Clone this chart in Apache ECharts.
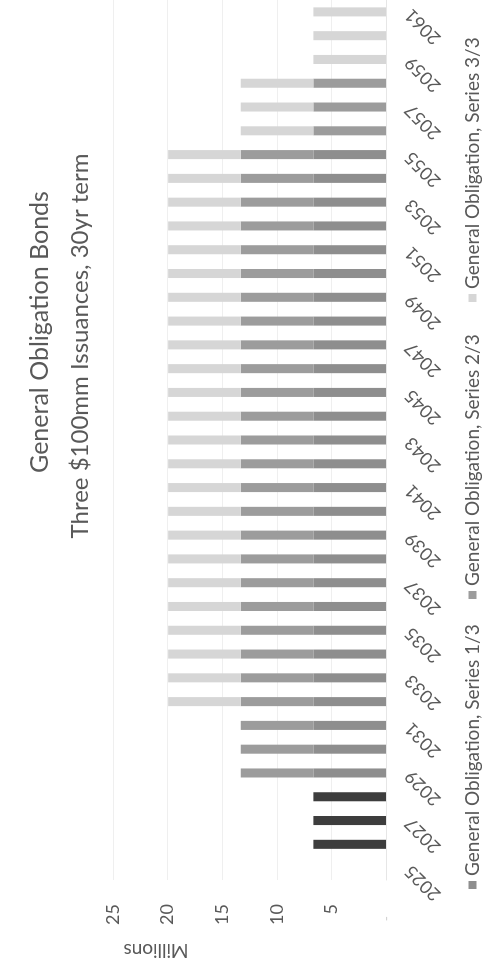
<!DOCTYPE html>
<html>
<head>
<meta charset="utf-8">
<script src="https://cdn.jsdelivr.net/npm/echarts@6/dist/echarts.min.js"></script>
<style>
  html, body { margin: 0; padding: 0; background: #fff; width: 499px; height: 966px; overflow: hidden; }
  #chart { position: absolute; left: 0; top: 0; width: 966px; height: 499px;
           transform-origin: 0 0; transform: translateY(966px) rotate(-90deg); }
</style>
</head>
<body>
<div id="chart"></div>
<script>
const titleLines = ['General Obligation Bonds', 'Three $100mm Issuances, 30yr term'];
const unitLabel = 'Millions';
const years = ['2025','2026','2027','2028','2029','2030','2031','2032','2033','2034','2035','2036','2037','2038','2039','2040','2041','2042','2043','2044','2045','2046','2047','2048','2049','2050','2051','2052','2053','2054','2055','2056','2057','2058','2059','2060','2061'];
const seriesNames = ['General Obligation, Series 1/3', 'General Obligation, Series 2/3', 'General Obligation, Series 3/3'];
const series1 = [null,6.65,6.65,6.65,6.65,6.65,6.65,6.65,6.65,6.65,6.65,6.65,6.65,6.65,6.65,6.65,6.65,6.65,6.65,6.65,6.65,6.65,6.65,6.65,6.65,6.65,6.65,6.65,6.65,6.65,6.65,null,null,null,null,null,null];
const series2 = [null,null,null,null,6.65,6.65,6.65,6.65,6.65,6.65,6.65,6.65,6.65,6.65,6.65,6.65,6.65,6.65,6.65,6.65,6.65,6.65,6.65,6.65,6.65,6.65,6.65,6.65,6.65,6.65,6.65,6.65,6.65,6.65,null,null,null];
const series3 = [null,null,null,null,null,null,null,6.65,6.65,6.65,6.65,6.65,6.65,6.65,6.65,6.65,6.65,6.65,6.65,6.65,6.65,6.65,6.65,6.65,6.65,6.65,6.65,6.65,6.65,6.65,6.65,6.65,6.65,6.65,6.65,6.65,6.65];
const darkYears = ['2026','2027','2028'];

const FONT = 'Lato, "Open Sans", sans-serif';
const TXT = '#595959';
const colors = ['#8e8e8e', '#9c9c9c', '#d6d6d6'];

const s1data = series1.map((v, i) => darkYears.includes(years[i]) ? { value: v, itemStyle: { color: '#3d3d3d' } } : v);

const chart = echarts.init(document.getElementById('chart'), null, { renderer: 'canvas', width: 966, height: 499 });
chart.setOption({
  animation: false,
  backgroundColor: '#fff',
  graphic: [
    { type: 'text', x: 634, y: 40,
      style: { text: titleLines[0], fontFamily: FONT, fontSize: 25, fill: TXT, textAlign: 'center', textVerticalAlign: 'middle' } },
    { type: 'text', x: 620, y: 80,
      style: { text: titleLines[1], fontFamily: FONT, fontSize: 24, fill: TXT, textAlign: 'center', textVerticalAlign: 'middle' } },
    { type: 'text', x: 16, y: 156, rotation: Math.PI / 2,
      style: { text: unitLabel, fontFamily: FONT, fontSize: 19, fill: TXT, textAlign: 'center', textVerticalAlign: 'middle' } }
  ],
  legend: seriesNames.map((n, i) => ({
    data: [n], left: [72, 362, 659][i], top: 458, itemWidth: 8, itemHeight: 8, icon: 'rect', itemGap: 6,
    textStyle: { fontFamily: FONT, fontSize: 19, color: TXT }
  })),
  grid: { left: 86, right: 0, top: 113, bottom: 113, containLabel: false },
  xAxis: {
    type: 'category', data: years,
    axisLine: { show: true, lineStyle: { color: '#e6e6e6' } },
    axisTick: { show: false },
    axisLabel: { interval: 1, rotate: 45, margin: 22, fontFamily: FONT, fontSize: 18, color: TXT }
  },
  yAxis: {
    type: 'value', min: 0, max: 25, interval: 5,
    axisLine: { show: false }, axisTick: { show: false },
    splitLine: { lineStyle: { color: '#efefef' } },
    axisLabel: { margin: 24, fontFamily: FONT, fontSize: 18, color: TXT,
      formatter: v => v === 0 ? '{z|-}' : String(v),
      rich: { z: { color: '#d0d0d0', fontSize: 14, padding: [0, 12, 0, 0] } } }
  },
  series: [
    { name: seriesNames[0], type: 'bar', stack: 'go', data: s1data, barWidth: '38%', itemStyle: { color: colors[0] } },
    { name: seriesNames[1], type: 'bar', stack: 'go', data: series2, barWidth: '38%', itemStyle: { color: colors[1] } },
    { name: seriesNames[2], type: 'bar', stack: 'go', data: series3, barWidth: '38%', itemStyle: { color: colors[2] } }
  ]
});
</script>
</body>
</html>
